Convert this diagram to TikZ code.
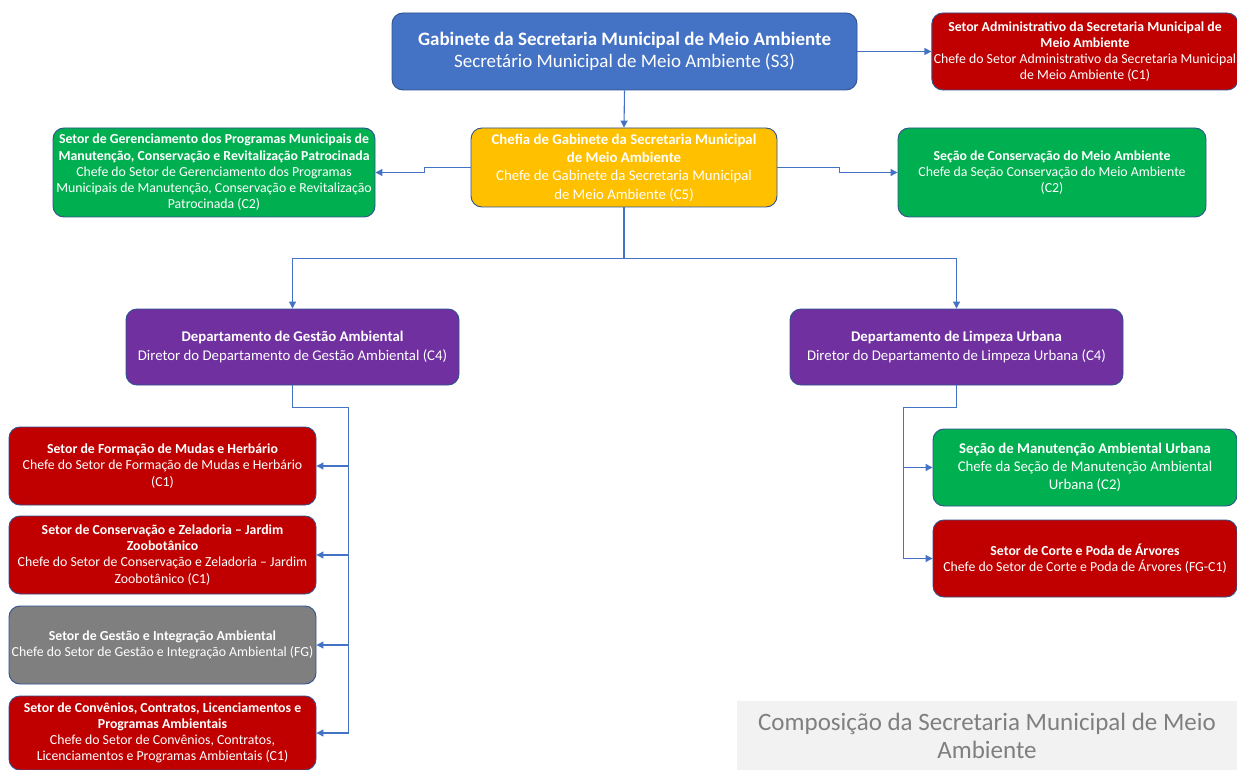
\documentclass[tikz,border=0pt]{standalone}
\usepackage{fontspec}
\setmainfont{Carlito}
\usepackage{xcolor}
\usepackage{tikz}
\usetikzlibrary{arrows.meta,positioning,calc}
\definecolor{gb}{HTML}{4472C4}
\definecolor{ch}{HTML}{FFC000}
\definecolor{vm}{HTML}{C00000}
\definecolor{vd}{HTML}{00B050}
\definecolor{dp}{HTML}{7030A0}
\definecolor{cz}{HTML}{7F7F7F}
\definecolor{bd}{HTML}{2F528F}
\definecolor{lg}{HTML}{F2F2F2}
\newcommand{\Tit}[1]{\textbf{#1}}
\tikzset{
  box/.style={draw=bd, line width=0.9pt, rounded corners=11pt, text=white, align=center, inner sep=2pt},
  lnk/.style={draw=gb, line width=1.1pt, -{Triangle[length=7pt,width=7pt]}},
  sm/.style={font=\fontsize{13.8}{16.2}\selectfont},
  md/.style={font=\fontsize{14.8}{18.3}\selectfont},
}

\begin{document}
\begin{tikzpicture}[x=1pt,y=-1pt]
  \useasboundingbox (0,0) rectangle (1237,770);
  \node[box, fill=gb, minimum width=465pt, minimum height=77pt, font=\fontsize{19}{22}\selectfont] (gab) at (624.5,51.5)
    {\Tit{Gabinete da Secretaria Municipal de Meio Ambiente}\\Secretário Municipal de Meio Ambiente (S3)};
  \node[box, sm, fill=vm, minimum width=304pt, minimum height=77pt] (adm) at (1085,51.5)
    {\Tit{Setor Administrativo da Secretaria Municipal de}\\\Tit{Meio Ambiente}\\Chefe do Setor Administrativo da Secretaria Municipal\\de Meio Ambiente (C1)};
  \node[box, md, fill=ch, minimum width=306pt, minimum height=79pt] (chf) at (624,167.5)
    {\Tit{Chefia de Gabinete da Secretaria Municipal}\\\Tit{de Meio Ambiente}\\Chefe de Gabinete da Secretaria Municipal\\de Meio Ambiente (C5)};
  \node[box, sm, fill=vd, minimum width=322pt, minimum height=89pt] (ger) at (214,172.5)
    {\Tit{Setor de Gerenciamento dos Programas Municipais de}\\\Tit{Manutenção, Conservação e Revitalização Patrocinada}\\Chefe do Setor de Gerenciamento dos Programas\\Municipais de Manutenção, Conservação e Revitalização\\Patrocinada (C2)};
  \node[box, sm, fill=vd, minimum width=308pt, minimum height=89pt] (sec) at (1052,172.5)
    {\Tit{Seção de Conservação do Meio Ambiente}\\Chefe da Seção Conservação do Meio Ambiente\\(C2)};
  \node[box, md, fill=dp, minimum width=333pt, minimum height=76pt] (dga) at (292.5,347)
    {\Tit{Departamento de Gestão Ambiental}\\Diretor do Departamento de Gestão Ambiental (C4)};
  \node[box, md, fill=dp, minimum width=333pt, minimum height=76pt] (dlu) at (956.5,347)
    {\Tit{Departamento de Limpeza Urbana}\\Diretor do Departamento de Limpeza Urbana (C4)};
  \node[box, sm, fill=vm, minimum width=307pt, minimum height=78pt] (fmh) at (162.5,466)
    {\Tit{Setor de Formação de Mudas e Herbário}\\Chefe do Setor de Formação de Mudas e Herbário\\(C1)};
  \node[box, sm, fill=vm, minimum width=307pt, minimum height=78pt] (cjz) at (162.5,555)
    {\Tit{Setor de Conservação e Zeladoria -- Jardim}\\\Tit{Zoobotânico}\\Chefe do Setor de Conservação e Zeladoria -- Jardim\\Zoobotânico (C1)};
  \node[box, sm, fill=cz, minimum width=307pt, minimum height=78pt] (gia) at (162.5,645)
    {\Tit{Setor de Gestão e Integração Ambiental}\\Chefe do Setor de Gestão e Integração Ambiental (FG)};
  \node[box, sm, fill=vm, minimum width=307pt, minimum height=74pt] (cnv) at (162.5,733)
    {\Tit{Setor de Convênios, Contratos, Licenciamentos e}\\\Tit{Programas Ambientais}\\Chefe do Setor de Convênios, Contratos,\\Licenciamentos e Programas Ambientais (C1)};
  \node[box, md, fill=vd, minimum width=304pt, minimum height=77pt] (sma) at (1085,467.5)
    {\Tit{Seção de Manutenção Ambiental Urbana}\\Chefe da Seção de Manutenção Ambiental\\Urbana (C2)};
  \node[box, sm, fill=vm, minimum width=304pt, minimum height=77pt] (scp) at (1085,558.5)
    {\Tit{Setor de Corte e Poda de Árvores}\\Chefe do Setor de Corte e Poda de Árvores (FG-C1)};
  \node[fill=lg, text=cz, align=center, minimum width=500pt, minimum height=69pt, inner sep=0pt, font=\fontsize{25}{28}\selectfont] (cap) at (987,735.5)
    {Composição da Secretaria Municipal de Meio\\Ambiente};
  \draw[lnk] (gab.east) -- (adm.west);
  \draw[lnk] (gab.south) -- (chf.north);
  \draw[lnk] (chf.west) -- ++(-46,0) |- (ger.east);
  \draw[lnk] (chf.east) -- ++(62,0) |- (sec.west);
  \draw[lnk] (chf.south) -- ++(0,51) -| (dga.north);
  \draw[lnk] (chf.south) -- ++(0,51) -| (dlu.north);
  \foreach \n in {fmh,cjz,gia,cnv}
    \draw[lnk] (dga.south) -- ++(0,22) -- ++(56,0) |- (\n.east);
  \foreach \n in {sma,scp}
    \draw[lnk] (dlu.south) -- ++(0,22) -- ++(-53,0) |- (\n.west);
\end{tikzpicture}
\end{document}
